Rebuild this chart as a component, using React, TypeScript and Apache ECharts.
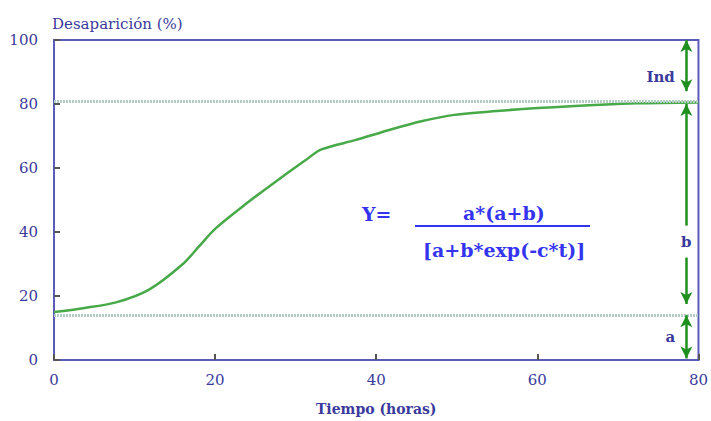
import React, { useEffect, useRef } from "react";
import * as echarts from "echarts";

const timeHours = [0, 3.6, 7.7, 11.8, 16, 18, 20.1, 24.2, 27, 31.2, 33.2, 37.4, 41.5, 45.6, 49.7, 55.9, 64.1, 72.3, 80];
const disappearance = [15, 16.2, 18, 22, 30, 35.5, 41.2, 49.5, 54.8, 62.4, 65.8, 68.7, 71.8, 74.6, 76.6, 78, 79.3, 80.2, 80.5];

const xTicks = [0, 20, 40, 60, 80];
const yTicks = [0, 20, 40, 60, 80, 100];

const levelA = 14;
const levelTop = 81;
const arrowX = 78.5;

const labelColor = "#3a3a9c";
const formulaColor = "#3434f0";
const arrowGreen = "#1f8f1f";
const serif = "DejaVu Serif";

export default function App() {
  const ref = useRef<HTMLDivElement>(null);
  useEffect(() => {
    if (!ref.current) return;
    const chart = echarts.init(ref.current, undefined, { renderer: "svg" });
    const arrowLine = { color: arrowGreen, width: 2.5, type: "solid" as const };
    const formulaStyle = { fill: formulaColor, fontFamily: serif, fontSize: 19, fontWeight: "bold" };
    chart.setOption({
      animation: false,
      backgroundColor: "#ffffff",
      textStyle: { fontFamily: serif },
      grid: {
        left: 54,
        right: 10,
        top: 40,
        bottom: 61,
        show: true,
        borderColor: "#5a5ab8",
        borderWidth: 2,
        backgroundColor: "transparent",
      },
      xAxis: {
        type: "value",
        min: xTicks[0],
        max: xTicks[xTicks.length - 1],
        interval: 20,
        name: "Tiempo (horas)",
        nameLocation: "middle",
        nameGap: 42,
        nameTextStyle: { color: labelColor, fontFamily: serif, fontSize: 14, fontWeight: "bold" },
        axisLine: { show: true, lineStyle: { color: "#5a5ab8", width: 2 } },
        axisTick: { show: true, inside: true, length: 6, lineStyle: { color: "#555555", width: 2 } },
        axisLabel: { color: labelColor, fontFamily: serif, fontSize: 15, margin: 12 },
        splitLine: { show: false },
      },
      yAxis: {
        type: "value",
        min: yTicks[0],
        max: yTicks[yTicks.length - 1],
        interval: 20,
        name: "Desaparición (%)",
        nameLocation: "end",
        nameGap: 9,
        nameTextStyle: { color: labelColor, fontFamily: serif, fontSize: 15, align: "left", padding: [0, 0, 0, -2] },
        axisLine: { show: true, lineStyle: { color: "#5a5ab8", width: 2 } },
        axisTick: { show: true, inside: true, length: 6, lineStyle: { color: "#555555", width: 2 } },
        axisLabel: { color: labelColor, fontFamily: serif, fontSize: 15, margin: 16 },
        splitLine: { show: false },
      },
      series: [
        {
          type: "line",
          data: timeHours.map((t, i) => [t, disappearance[i]]),
          smooth: 0.3,
          showSymbol: false,
          lineStyle: { color: "#47a947", width: 2.5 },
          z: 3,
          markLine: {
            silent: true,
            symbol: ["none", "none"],
            label: { show: false },
            lineStyle: { color: "#b3ccc5", width: 3, type: [2, 1] },
            data: [{ yAxis: levelTop }, { yAxis: levelA }],
          },
        },
        {
          type: "line",
          data: [],
          markLine: {
            silent: true,
            symbol: ["arrow", "arrow"],
            symbolSize: [9, 12],
            label: { show: false },
            lineStyle: arrowLine,
            data: [
              [{ coord: [arrowX, 100] }, { coord: [arrowX, 84] }],
              [{ coord: [arrowX, 80], symbol: "arrow" }, { coord: [arrowX, 42], symbol: "none" }],
              [{ coord: [arrowX, 32], symbol: "none" }, { coord: [arrowX, 17.5], symbol: "arrow" }],
              [{ coord: [arrowX, levelA] }, { coord: [arrowX, 0.5] }],
            ],
          },
          markPoint: {
            silent: true,
            symbolSize: 0,
            label: {
              show: true,
              position: "inside",
              color: labelColor,
              fontFamily: serif,
              fontSize: 15,
              fontWeight: "bold",
            },
            data: [
              { coord: [75.3, 88.5], value: "Ind", label: { formatter: "Ind" } },
              { coord: [arrowX, 36.8], value: "b", label: { formatter: "b" } },
              { coord: [76.5, 7.3], value: "a", label: { formatter: "a" } },
            ],
          },
        },
      ],
      graphic: [
        { type: "text", left: 362, top: 204, style: { text: "Y=", ...formulaStyle } },
        { type: "text", left: 463, top: 203, style: { text: "a*(a+b)", ...formulaStyle } },
        {
          type: "line",
          shape: { x1: 415, y1: 226, x2: 590, y2: 226 },
          style: { stroke: formulaColor, lineWidth: 2 },
        },
        { type: "text", left: 423, top: 240, style: { text: "[a+b*exp(-c*t)]", ...formulaStyle } },
      ],
    });
    return () => chart.dispose();
  }, []);
  return <div ref={ref} style={{ width: 711, height: 421, position: "absolute", left: 0, top: 0 }} />;
}
